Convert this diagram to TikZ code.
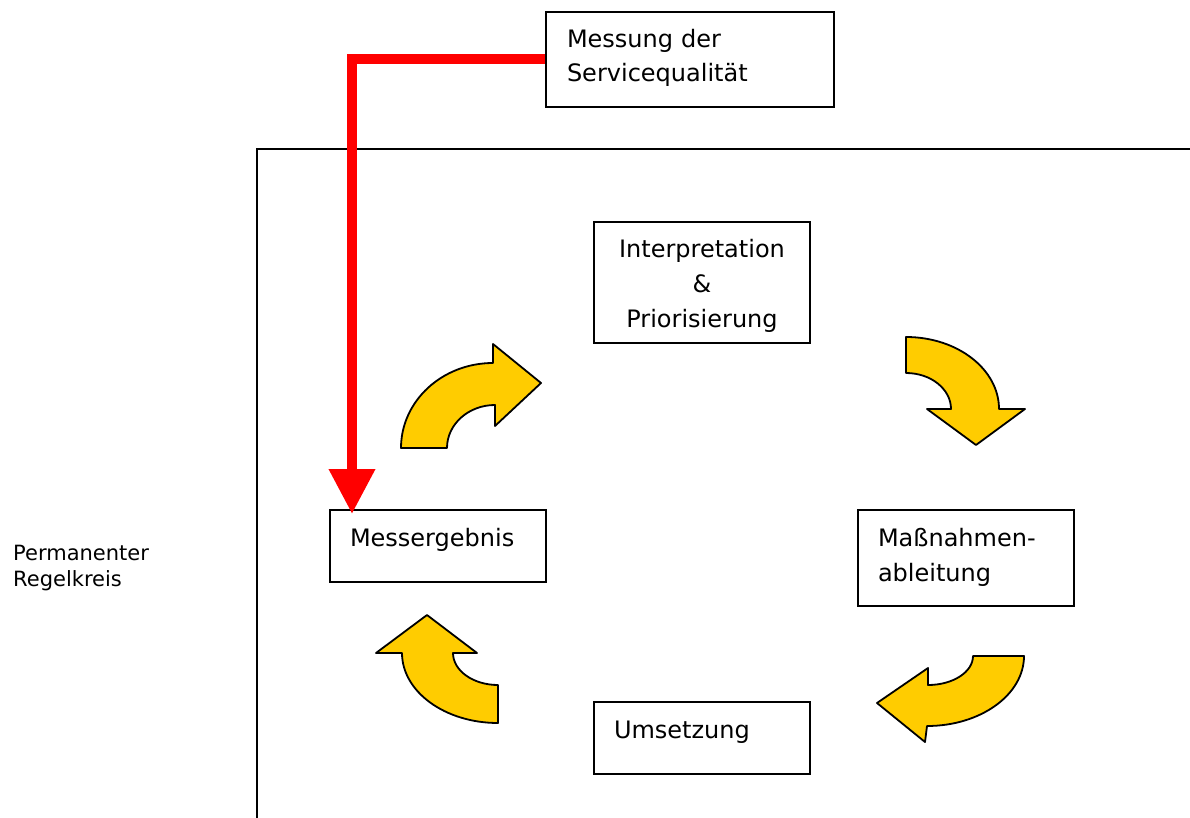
\documentclass[tikz,border=0pt]{standalone}
\usepackage{fontspec}
\setmainfont{DejaVu Sans}
\usetikzlibrary{arrows.meta}
\definecolor{arrowyellow}{HTML}{FFCC00}
\definecolor{linkred}{HTML}{FF0000}
\begin{document}
\begin{tikzpicture}[x=1pt,y=-1pt,
  box/.style={draw=black,line width=2pt,inner xsep=20pt,inner ysep=0pt,anchor=north west,
    align=left,text width=176pt,text height=36pt,text depth=36pt,font=\fontsize{24}{34}\selectfont},
  yarrow/.style={fill=arrowyellow,draw=black,line width=1.8pt,line join=round},
  redlink/.style={draw=linkred,line width=10pt,line join=miter,-{Triangle[width=44pt,length=45pt]}},
  sidelabel/.style={inner sep=0pt,anchor=north west,align=left,text width=200pt,
    text height=16pt,text depth=30pt,font=\fontsize{21}{26}\selectfont}
]
\useasboundingbox (0,0) rectangle (1190,818);
% frame of the permanent control loop
\draw[line width=2pt] (257,818) -- (257,149) -- (1190,149);
% curved block arrows
\draw[yarrow] (401,448) arc[start angle=180,end angle=270,x radius=92,y radius=85]
  -- (493,344) -- (541,383) -- (495,426) -- (495,405)
  arc[start angle=270,end angle=180,x radius=48,y radius=43] -- cycle;
\draw[yarrow] (906,337) arc[start angle=270,end angle=360,x radius=93,y radius=72]
  -- (1025,409) -- (976,445) -- (927,409) -- (951,409)
  arc[start angle=0,end angle=-90,x radius=45,y radius=36] -- cycle;
\draw[yarrow] (1024,656) arc[start angle=0,end angle=90,x radius=97,y radius=70]
  -- (925,742) -- (877,703) -- (928,668) -- (928,685)
  arc[start angle=90,end angle=0,x radius=45,y radius=29] -- cycle;
\draw[yarrow] (498,723) arc[start angle=90,end angle=180,x radius=96,y radius=70]
  -- (376,653) -- (427,615) -- (477,653) -- (453,653)
  arc[start angle=180,end angle=90,x radius=45,y radius=32] -- cycle;
% boxes
\node[box,text width=246pt,inner xsep=21pt,text depth=59pt] (mess) at (545,11) {Messung der\\Servicequalität};
\node[box,align=center,text depth=85pt,font=\fontsize{24}{35}\selectfont] (interp) at (593,221) {Interpretation\\\&\\Priorisierung};
\node[box] (erg) at (329,509) {Messergebnis};
\node[box,text depth=60pt,font=\fontsize{24}{35}\selectfont] (mass) at (857,509) {Maßnahmen-\\ableitung};
\node[box] (ums) at (593,701) {Umsetzung};
\node[sidelabel] (perm) at (13,544) {Permanenter\\Regelkreis};
% red connector
\draw[redlink] (mess.west) -| ([xshift=23pt,yshift=-5pt]erg.north west);
\end{tikzpicture}
\end{document}
